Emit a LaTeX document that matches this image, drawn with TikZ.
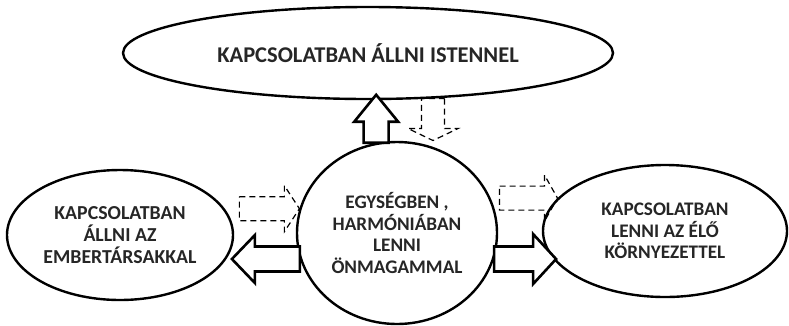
\documentclass[tikz,border=0pt]{standalone}
\usepackage{fontspec}
\setmainfont{Carlito}
\usetikzlibrary{shapes.geometric,calc}

% block arrow along +x: length / head length / shaft half width / head half width
\tikzset{
  pics/blockarr/.style args={#1/#2/#3/#4}{code={
    \path[pic actions] (0,-#3) -- ({#1-#2},-#3) -- ({#1-#2},-#4) -- (#1,0)
      -- ({#1-#2},#4) -- ({#1-#2},#3) -- (0,#3) -- cycle;
  }}
}

\begin{document}
\begin{tikzpicture}[
  x=1pt, y=-1pt,
  bubble/.style={draw, ellipse, line width=2.4pt, inner sep=0pt, text=black!85,
    align=center, font=\bfseries\fontsize{19.2}{21.5}\selectfont},
  solidarr/.style={draw, fill=white, line width=2.6pt},
  dasharr/.style={draw, line width=1.2pt, dash pattern=on 6pt off 4pt}
]
\useasboundingbox (0,0) rectangle (789,325);

% Ellipses
\node[bubble, minimum width=490pt, minimum height=92pt,
  font=\bfseries\fontsize{22.5}{26}\selectfont] (god) at (368,53) {KAPCSOLATBAN ÁLLNI ISTENNEL};
\node[bubble, minimum width=200pt, minimum height=182pt] (self) at (397,233)
  {EGYSÉGBEN ,\\HARMÓNIÁBAN\\LENNI\\ÖNMAGAMMAL};
\node[bubble, minimum width=226pt, minimum height=130pt,
  font=\bfseries\fontsize{19.8}{22}\selectfont] (people) at (120,235)
  {KAPCSOLATBAN\\ÁLLNI AZ\\EMBERTÁRSAKKAL};
\node[bubble, minimum width=244pt, minimum height=132pt] (nature) at (665,231)
  {KAPCSOLATBAN\\LENNI AZ ÉLŐ\\KÖRNYEZETTEL};

% Solid arrows
\pic[solidarr, rotate=90] at (self.103) {blockarr=48/27/12.5/22};
\pic[solidarr, rotate=180] at (self.195) {blockarr=68/23/12.5/24};
\pic[solidarr] at (self.-15) {blockarr=62/23/12.5/25};

% Dashed arrows
\pic[dasharr, rotate=-90] at (god.-35) {blockarr=42/12/11.5/25};
\pic[dasharr] at ($(self.166)+(-60,0)$) {blockarr=60/15/12/23};
\pic[dasharr] at ($(nature.163)+(-58,0)$) {blockarr=58/13/12/23};

\end{tikzpicture}
\end{document}
